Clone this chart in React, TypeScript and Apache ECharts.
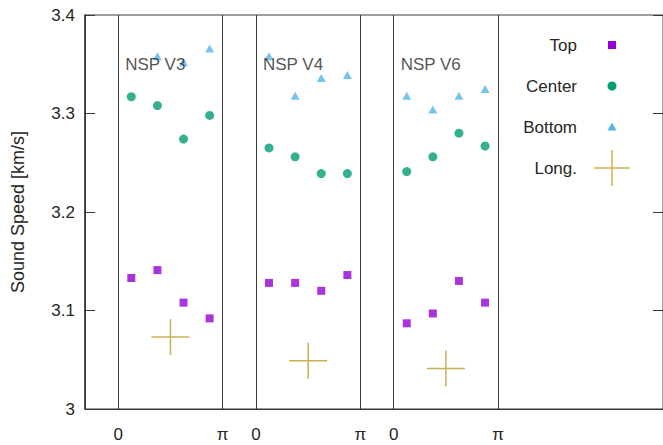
import React, { useEffect, useRef } from "react";
import * as echarts from "echarts";

// ---- data ----
const panelNames = ["NSP V3", "NSP V4", "NSP V6"];
const panelStarts = [0, Math.PI + 1, 2 * Math.PI + 2];
const angles = [Math.PI / 8, (3 * Math.PI) / 8, (5 * Math.PI) / 8, (7 * Math.PI) / 8];
const longAngle = Math.PI / 2;

const topValues = [
  [3.133, 3.141, 3.108, 3.092],
  [3.128, 3.128, 3.12, 3.136],
  [3.087, 3.097, 3.13, 3.108],
];
const centerValues = [
  [3.317, 3.308, 3.274, 3.298],
  [3.265, 3.256, 3.239, 3.239],
  [3.241, 3.256, 3.28, 3.267],
];
const bottomValues = [
  [null, 3.358, 3.352, 3.366],
  [3.358, 3.318, 3.336, 3.339],
  [3.318, 3.304, 3.318, 3.325],
];
const longValues = [3.073, 3.049, 3.041];

const xTickLabels = ["0", "π"];
const yTicks = [3, 3.1, 3.2, 3.3, 3.4];
const legendNames = ["Top", "Center", "Bottom", "Long."];

const COLORS = {
  top: "#9400D3",
  center: "#009E73",
  bottom: "#56B4E9",
  long: "#C8B055",
};
const FONT = '"Liberation Sans", Arial, sans-serif';
const TEXT = "#262626";
const FRAME = "#3a3a3a";

function seriesData(values: (number | null)[][]) {
  const out: any[] = [];
  values.forEach((row, p) =>
    row.forEach((v, i) => {
      if (v !== null) out.push([panelStarts[p] + angles[i], v]);
    })
  );
  return out;
}

const xTickValues: number[] = [];
const xTickText: string[] = [];
panelStarts.forEach((s) => {
  xTickValues.push(s);
  xTickText.push(xTickLabels[0]);
  xTickValues.push(s + Math.PI);
  xTickText.push(xTickLabels[1]);
});

export default function App() {
  const ref = useRef<HTMLDivElement>(null);
  useEffect(() => {
    if (!ref.current) return;
    const chart = echarts.init(ref.current, undefined, { renderer: "svg" });
    const pxPerUnit = 105 / Math.PI;
    const gridLeft = 85;
    const gridWidth = 581;
    const xMin = -1;
    const xMax = xMin + gridWidth / pxPerUnit;

    const legendY = [45, 86, 127, 168];
    const legendTextX = 577;
    const legendMarkX = 612;
    const graphics: any[] = [];
    legendNames.forEach((n, i) => {
      graphics.push({
        type: "text",
        x: legendTextX,
        y: legendY[i],
        style: {
          text: n,
          align: "right",
          verticalAlign: "middle",
          font: `17px ${FONT}`,
          fill: TEXT,
        },
      });
    });
    graphics.push({
      type: "rect",
      shape: { x: legendMarkX - 4, y: legendY[0] - 4, width: 8, height: 8 },
      style: { fill: COLORS.top },
    });
    graphics.push({
      type: "circle",
      shape: { cx: legendMarkX, cy: legendY[1], r: 4.5 },
      style: { fill: COLORS.center },
    });
    graphics.push({
      type: "polygon",
      shape: {
        points: [
          [legendMarkX, legendY[2] - 4.5],
          [legendMarkX + 4.5, legendY[2] + 3.5],
          [legendMarkX - 4.5, legendY[2] + 3.5],
        ],
      },
      style: { fill: COLORS.bottom },
    });
    graphics.push({
      type: "line",
      shape: { x1: legendMarkX - 18, y1: legendY[3], x2: legendMarkX + 18, y2: legendY[3] },
      style: { stroke: COLORS.long, lineWidth: 1.5 },
    });
    graphics.push({
      type: "line",
      shape: { x1: legendMarkX, y1: legendY[3] - 18, x2: legendMarkX, y2: legendY[3] + 18 },
      style: { stroke: COLORS.long, lineWidth: 1.5 },
    });

    const vLines: any[] = xTickValues.map((v) => ({ xAxis: v }));

    chart.setOption({
      animation: false,
      backgroundColor: "#fff",
      textStyle: { fontFamily: FONT },
      grid: {
        left: gridLeft,
        top: 15,
        width: gridWidth,
        height: 394,
        containLabel: false,
        show: true,
        borderColor: FRAME,
        borderWidth: 1,
        backgroundColor: "transparent",
      },
      xAxis: [
        {
          type: "value",
          min: xMin,
          max: xMax,
          position: "bottom",
          axisLine: { show: true, onZero: false, lineStyle: { color: FRAME, width: 1 } },
          axisTick: { show: false },
          splitLine: { show: false },
          axisLabel: {
            show: true,
            customValues: xTickValues,
            margin: 17,
            fontSize: 17,
            color: TEXT,
            fontFamily: FONT,
            formatter: (v: number) => {
              const idx = xTickValues.findIndex((t) => Math.abs(t - v) < 1e-6);
              return idx >= 0 ? xTickText[idx] : "";
            },
          },
        },
      ],
      yAxis: [
        {
          type: "value",
          min: 3,
          max: 3.4,
          interval: 0.1,
          position: "left",
          name: "Sound Speed [km/s]",
          nameLocation: "middle",
          nameGap: 58,
          nameTextStyle: { fontSize: 18, color: TEXT, fontFamily: FONT },
          axisLine: { show: true, onZero: false, lineStyle: { color: FRAME, width: 1.5 } },
          axisTick: { show: false },
          splitLine: { show: false },
          axisLabel: {
            margin: 10,
            fontSize: 17,
            color: TEXT,
            fontFamily: FONT,
            formatter: (v: number) => {
              const t = yTicks.find((y) => Math.abs(y - v) < 1e-9);
              return t === undefined ? "" : String(t);
            },
          },
        },
        {
          type: "value",
          min: 3,
          max: 3.4,
          interval: 0.1,
          position: "right",
          axisLine: { show: true, onZero: false, lineStyle: { color: FRAME, width: 1 } },
          axisTick: { show: true, inside: true, length: 10, lineStyle: { color: FRAME, width: 1 } },
          axisLabel: { show: false },
          splitLine: { show: false },
        },
        {
          type: "value",
          min: 3,
          max: 3.4,
          interval: 0.1,
          position: "left",
          offset: 0,
          axisLine: { show: true, onZero: false, lineStyle: { color: FRAME, width: 1 } },
          axisTick: { show: true, inside: true, length: 10, lineStyle: { color: FRAME, width: 1 } },
          axisLabel: { show: false },
          splitLine: { show: false },
        },
      ],
      series: [
        {
          name: "frame",
          type: "scatter",
          data: [],
          silent: true,
          markLine: {
            silent: true,
            symbol: ["none", "none"],
            label: { show: false },
            lineStyle: { color: FRAME, width: 1, type: "solid" },
            data: vLines,
          },
        },
        {
          name: "Top",
          type: "scatter",
          symbol: "rect",
          symbolSize: 8,
          itemStyle: { color: COLORS.top },
          data: seriesData(topValues),
          z: 3,
        },
        {
          name: "Center",
          type: "scatter",
          symbol: "circle",
          symbolSize: 9,
          itemStyle: { color: COLORS.center },
          data: seriesData(centerValues),
          z: 3,
        },
        {
          name: "Bottom",
          type: "scatter",
          symbol: "triangle",
          symbolSize: [9, 8],
          itemStyle: { color: COLORS.bottom },
          data: seriesData(bottomValues),
          z: 3,
        },
        {
          name: "Long.",
          type: "custom",
          data: longValues.map((v, p) => [panelStarts[p] + longAngle, v]),
          encode: { x: 0, y: 1 },
          z: 3,
          renderItem: (params: any, api: any) => {
            const pt = api.coord([api.value(0), api.value(1)]);
            const st = { stroke: COLORS.long, lineWidth: 1.5 };
            return {
              type: "group",
              children: [
                { type: "line", shape: { x1: pt[0] - 19, y1: pt[1], x2: pt[0] + 19, y2: pt[1] }, style: st },
                { type: "line", shape: { x1: pt[0], y1: pt[1] - 18, x2: pt[0], y2: pt[1] + 18 }, style: st },
              ],
            };
          },
        },
        {
          name: "panelLabels",
          type: "scatter",
          symbolSize: 0,
          silent: true,
          z: 5,
          data: panelNames.map((n, p) => ({ name: n, value: [panelStarts[p] + 0.21, 3.35] })),
          label: {
            show: true,
            position: "right",
            distance: 0,
            formatter: (p: any) => p.name,
            fontSize: 17,
            color: TEXT,
            fontFamily: FONT,
          },
        },
      ],
      graphic: graphics,
    });
    return () => chart.dispose();
  }, []);
  return (
    <div
      ref={ref}
      style={{ position: "fixed", left: 0, top: 0, width: 663, height: 445, background: "#fff" }}
    />
  );
}
